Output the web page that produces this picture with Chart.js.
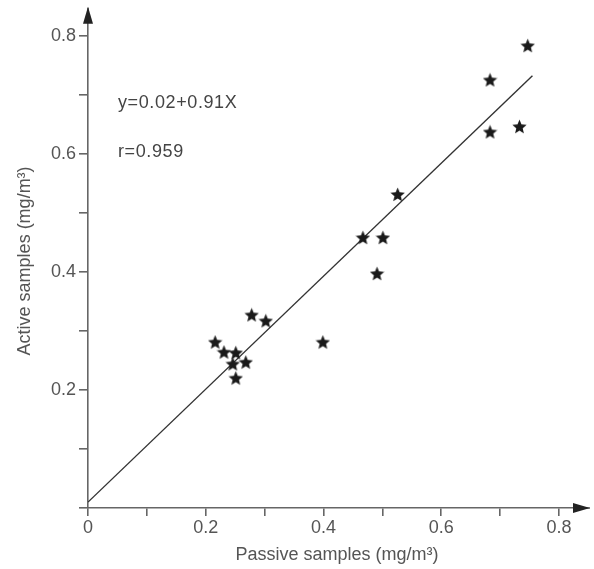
<!DOCTYPE html>
<html>
<head>
<meta charset="utf-8">
<script src="https://cdn.jsdelivr.net/npm/chart.js@4"></script>
<style>
  html, body { margin: 0; padding: 0; background: #fff; }
  #wrap { position: relative; width: 594px; height: 569px; }
</style>
</head>
<body>
<div id="wrap"><canvas id="scatter"></canvas></div>
<script>
// passive (x) vs active (y) samples, mg/m3
var passive = [0.747, 0.683, 0.683, 0.733, 0.526, 0.467, 0.501, 0.491, 0.399, 0.278, 0.302, 0.216, 0.231, 0.251, 0.246, 0.268, 0.251];
var active  = [0.783, 0.725, 0.637, 0.646, 0.531, 0.458, 0.458, 0.397, 0.281, 0.327, 0.317, 0.281, 0.264, 0.263, 0.244, 0.247, 0.220];
// fitted line as drawn
var fitX = [0, 0.755];
var fitY = [0.01, 0.732];
var xTickLabels = ['0', '0.2', '0.4', '0.6', '0.8'];
var yTickLabels = ['0.2', '0.4', '0.6', '0.8'];
var eqText = 'y=0.02+0.91X';
var rText = 'r=0.959';

var axisColor = '#666';
var textColor = '#555';
var fontFam = '"Liberation Sans", Arial, sans-serif';

// filled five point star used as point style
function makeStar(size) {
    var c = document.createElement('canvas');
    c.width = size; c.height = size;
    var g = c.getContext('2d');
    var cx = size / 2, cy = size / 2 + 0.6, ro = size / 2, ri = ro * 0.45;
    g.beginPath();
    for (var i = 0; i < 10; i++) {
        var r = i % 2 ? ri : ro;
        var a = -Math.PI / 2 + i * Math.PI / 5;
        g.lineTo(cx + r * Math.cos(a), cy + r * Math.sin(a));
    }
    g.closePath();
    g.fillStyle = '#1a1a1a';
    g.fill();
    return c;
}
var star = makeStar(15);

var points = passive.map(function(v, i) { return { x: v, y: active[i] }; });
var fitLine = fitX.map(function(v, i) { return { x: v, y: fitY[i] }; });

function fmt(v) { return String(Math.round(v * 10) / 10); }

// arrows at axis ends and the equation text
var decorPlugin = {
    id: 'decor',
    afterDraw: function(chart) {
        var ctx = chart.ctx, a = chart.chartArea;
        var xs = chart.scales.x, ys = chart.scales.y;
        var x0 = xs.getPixelForValue(0), y0 = ys.getPixelForValue(0);
        ctx.save();
        ctx.strokeStyle = axisColor;
        ctx.lineWidth = 1.6;
        ctx.beginPath();
        ctx.moveTo(a.right, y0);
        ctx.lineTo(a.right + 4, y0);
        ctx.moveTo(x0, a.top);
        ctx.lineTo(x0, a.top - 6);
        ctx.stroke();
        ctx.fillStyle = '#222';
        ctx.beginPath();
        ctx.moveTo(a.right + 4, y0);
        ctx.lineTo(a.right - 13, y0 - 5);
        ctx.lineTo(a.right - 13, y0 + 5);
        ctx.closePath();
        ctx.fill();
        ctx.beginPath();
        ctx.moveTo(x0, a.top - 7);
        ctx.lineTo(x0 - 5, a.top + 10);
        ctx.lineTo(x0 + 5, a.top + 10);
        ctx.closePath();
        ctx.fill();

        ctx.fillStyle = '#444';
        ctx.font = '18px ' + fontFam;
        ctx.letterSpacing = '0.6px';
        ctx.textBaseline = 'middle';
        ctx.textAlign = 'left';
        ctx.fillText(eqText, xs.getPixelForValue(0.051), ys.getPixelForValue(0.686));
        ctx.fillText(rText, xs.getPixelForValue(0.051), ys.getPixelForValue(0.603));
        ctx.restore();
    }
};

var ctx = document.getElementById('scatter').getContext('2d');
var chart = new Chart(ctx, {
    type: 'scatter',
    data: {
        datasets: [{
            data: points,
            pointStyle: star,
            pointRadius: 7,
            pointHoverRadius: 7
        }, {
            type: 'line',
            data: fitLine,
            borderColor: '#333',
            borderWidth: 1.4,
            pointRadius: 0,
            showLine: true,
            fill: false
        }]
    },
    plugins: [decorPlugin],
    options: {
        responsive: true,
        maintainAspectRatio: false,
        animation: false,
        layout: { padding: { top: 7, right: 0, left: 0, bottom: 0 } },
        plugins: { legend: { display: false }, tooltip: { enabled: false } },
        scales: {
            x: {
                type: 'linear',
                min: 0,
                max: 0.846,
                afterFit: function(s) { s.height = 61; },
                afterBuildTicks: function(s) {
                    s.ticks = [0, 0.1, 0.2, 0.3, 0.4, 0.5, 0.6, 0.7, 0.8].map(function(v) { return { value: v }; });
                },
                border: { color: axisColor, width: 1.6 },
                grid: { drawOnChartArea: false, color: axisColor, lineWidth: 1.6, tickLength: 8 },
                ticks: {
                    color: textColor,
                    font: { family: fontFam, size: 18 },
                    padding: 1,
                    maxRotation: 0,
                    autoSkip: false,
                    callback: function(v) {
                        var s = fmt(v);
                        return xTickLabels.indexOf(s) >= 0 ? s : '';
                    }
                },
                title: {
                    display: true,
                    text: 'Passive samples (mg/m³)',
                    color: textColor,
                    font: { family: fontFam, size: 18 },
                    padding: { top: 0, bottom: 3 }
                }
            },
            y: {
                type: 'linear',
                min: 0,
                max: 0.837,
                afterFit: function(s) { s.width = 88; },
                afterBuildTicks: function(s) {
                    s.ticks = [0, 0.1, 0.2, 0.3, 0.4, 0.5, 0.6, 0.7, 0.8].map(function(v) { return { value: v }; });
                },
                border: { color: axisColor, width: 1.6 },
                grid: { drawOnChartArea: false, color: axisColor, lineWidth: 1.6, tickLength: 9 },
                ticks: {
                    color: textColor,
                    font: { family: fontFam, size: 18 },
                    padding: 3,
                    autoSkip: false,
                    callback: function(v) {
                        var s = fmt(v);
                        return yTickLabels.indexOf(s) >= 0 ? s : '';
                    }
                },
                title: {
                    display: true,
                    text: 'Active samples (mg/m³)',
                    color: textColor,
                    font: { family: fontFam, size: 18 },
                    padding: { top: 14, bottom: 0 }
                }
            }
        }
    }
});
</script>
</body>
</html>
